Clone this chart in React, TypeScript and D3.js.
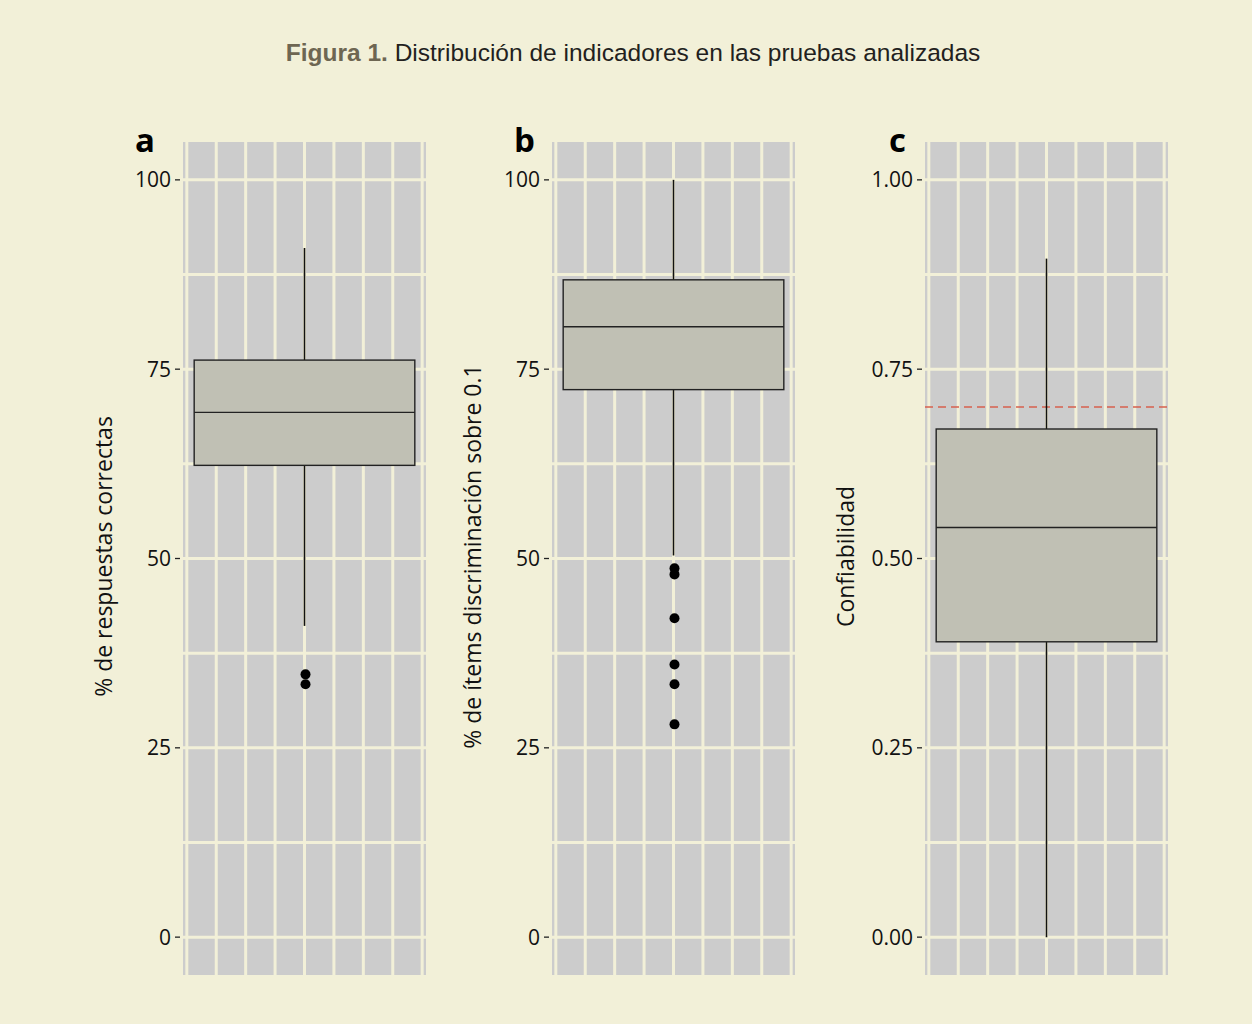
import React from 'react';
import * as d3 from 'd3';

// valores (resumen de cinco números + atípicos)
const panelTags = ['a', 'b', 'c'];
const yTitles = ['% de respuestas correctas', '% de ítems discriminación sobre 0.1', 'Confiabilidad'];
const whiskerLow = [41.1, 50.4, 0.0];
const q1 = [62.3, 72.3, 0.39];
const medians = [69.3, 80.6, 0.541];
const q3 = [76.2, 86.8, 0.671];
const whiskerHigh = [91.0, 100.0, 0.896];
const outliers = [[34.7, 33.4], [48.7, 47.9, 42.1, 36.0, 33.4, 28.1], []];
const yTicks = [[0, 25, 50, 75, 100], [0, 25, 50, 75, 100], [0, 0.25, 0.5, 0.75, 1]];
const yTickLabels = [['0', '25', '50', '75', '100'], ['0', '25', '50', '75', '100'], ['0.00', '0.25', '0.50', '0.75', '1.00']];
const yMax = [100, 100, 1];
const reliabilityThreshold = 0.7;

const W = 1252;
const H = 1024;
const BG = '#f2f0d8';
const PANEL = '#cccccc';
const BOXFILL = '#c0c0b4';
const panelLeft = [183, 552, 925];
const panelW = 243;
const top = 142;
const bottom = 975;
const tagX = [135, 514, 889];
const tickFont = "'Open Sans', 'Noto Sans', sans-serif";

const App: React.FC = () => {
  return (
    <div style={{ position: 'absolute', left: 0, top: 0, width: W, height: H, background: BG }}>
      <svg width={W} height={H}>
        <rect x={0} y={0} width={W} height={H} fill={BG} />
        <text x={633} y={61} textAnchor="middle" fontFamily="'Liberation Sans', Arial, sans-serif" fontSize={24.5} fill="#231f20">
          <tspan fontWeight="bold" fill="#6e6652">Figura 1.</tspan>
          <tspan> Distribución de indicadores en las pruebas analizadas</tspan>
        </text>
        {panelTags.map((tag, i) => {
          const m = yMax[i];
          const y = d3.scaleLinear().domain([-0.05 * m, 1.05 * m]).range([bottom, top]);
          const x = d3.scaleLinear().domain([-4.13, 4.13]).range([panelLeft[i], panelLeft[i] + panelW]);
          const cx = x(0);
          const half = x(3.75) - cx;
          const vGrid = d3.range(-4, 5);
          const hGrid = d3.range(0, 1.0001 * m, m / 8);
          return (
            <g key={tag}>
              <rect x={panelLeft[i]} y={top} width={panelW} height={bottom - top} fill={PANEL} />
              {hGrid.map((v) => (
                <line key={'h' + v} x1={panelLeft[i]} x2={panelLeft[i] + panelW} y1={y(v)} y2={y(v)} stroke={BG} strokeWidth={3} />
              ))}
              {vGrid.map((v) => (
                <line key={'v' + v} x1={x(v)} x2={x(v)} y1={top} y2={bottom} stroke={BG} strokeWidth={3} />
              ))}
              {yTicks[i].map((v, j) => (
                <g key={'t' + v}>
                  <line x1={panelLeft[i] - 8} x2={panelLeft[i] - 3} y1={y(v)} y2={y(v)} stroke="#222" strokeWidth={1.3} />
                  <text x={panelLeft[i] - 12} y={y(v)} dy="0.36em" textAnchor="end" fontFamily={tickFont} fontSize={21} fill="#111">
                    {yTickLabels[i][j]}
                  </text>
                </g>
              ))}
              {i === 2 && (
                <line x1={panelLeft[i]} x2={panelLeft[i] + panelW} y1={y(reliabilityThreshold)} y2={y(reliabilityThreshold)}
                  stroke="#d6604d" strokeWidth={1.6} strokeDasharray="8,5" />
              )}
              <line x1={cx} x2={cx} y1={y(whiskerHigh[i])} y2={y(q3[i])} stroke="#111" strokeWidth={1.6} />
              <line x1={cx} x2={cx} y1={y(q1[i])} y2={y(whiskerLow[i])} stroke="#111" strokeWidth={1.6} />
              <rect x={cx - half} y={y(q3[i])} width={2 * half} height={y(q1[i]) - y(q3[i])} fill={BOXFILL} stroke="#222" strokeWidth={1.4} />
              <line x1={cx - half} x2={cx + half} y1={y(medians[i])} y2={y(medians[i])} stroke="#222" strokeWidth={1.4} />
              {outliers[i].map((v, k) => (
                <circle key={'o' + k} cx={cx + 1} cy={y(v)} r={5} fill="#000" />
              ))}
              <text x={tagX[i]} y={152} fontFamily={tickFont} fontWeight="bold" fontSize={33} fill="#000">{tag}</text>
              <text transform={`translate(${panelLeft[i] - 80},${(top + bottom) / 2 - 2}) rotate(-90)`} textAnchor="middle"
                dominantBaseline="central" fontFamily={tickFont} fontSize={23} fill="#111">
                {yTitles[i]}
              </text>
            </g>
          );
        })}
      </svg>
    </div>
  );
};

export default App;
